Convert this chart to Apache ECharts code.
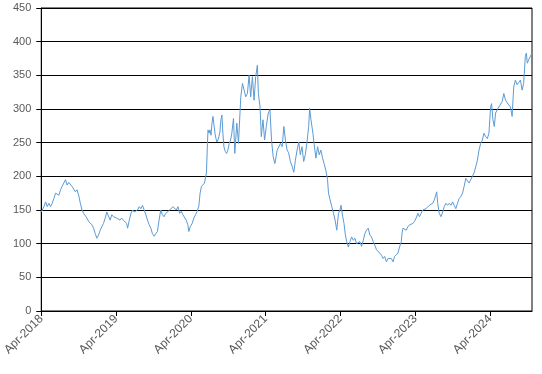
<!DOCTYPE html>
<html>
<head>
<meta charset="utf-8">
<script src="https://cdn.jsdelivr.net/npm/echarts@6/dist/echarts.min.js"></script>
<style>
html,body{margin:0;padding:0;background:#fff;}
#chart{width:542px;height:374px;}
</style>
</head>
<body>
<div id="chart"></div>
<script>
// Months elapsed since April 2018 (x) and price (y)
const months = [
0,0.43,0.70,0.96,1.23,1.50,1.75,2.02,2.29,2.55,2.82,3.09,3.34,3.61,3.89,4.14,4.41,4.68,4.94,5.21,
5.48,5.73,6.00,6.27,6.53,6.80,7.07,7.33,7.60,7.87,8.12,8.39,8.66,8.92,9.19,9.46,9.71,9.98,10.26,10.51,
10.78,11.05,11.31,11.58,11.85,12.10,12.37,12.64,12.90,13.17,13.44,13.69,13.85,14.12,14.40,14.65,14.92,15.19,15.45,15.72,
15.99,16.24,16.51,16.78,17.04,17.31,17.58,17.83,18.11,18.38,18.63,18.90,19.17,19.43,19.70,19.97,20.22,20.61,21.13,21.40,
21.66,21.93,22.20,22.45,22.72,22.99,23.25,23.52,23.68,23.89,24.20,24.48,24.75,25.00,25.27,25.48,25.70,25.91,26.18,26.34,
26.50,26.66,26.75,26.91,27.07,27.23,27.39,27.55,27.71,27.87,28.03,28.19,28.34,28.50,28.66,28.82,28.98,29.14,29.30,29.52,
29.73,29.94,30.16,30.37,30.57,30.84,31.05,31.37,31.64,32.01,32.28,32.55,32.80,33.07,33.34,33.60,33.87,34.14,34.40,34.67,
34.83,35.10,35.30,35.57,35.83,36.10,36.42,36.69,36.94,37.21,37.48,37.85,38.38,38.65,38.92,39.17,39.44,39.68,39.97,40.24,
40.51,40.77,41.04,41.31,41.56,41.83,42.10,42.36,42.63,42.90,43.06,43.27,43.58,43.79,44.06,44.33,44.59,44.86,45.13,45.38,
45.65,45.93,46.08,46.34,46.61,46.88,47.14,47.41,47.68,47.93,48.09,48.36,48.57,48.79,49.00,49.27,49.52,49.79,50.06,50.32,
50.59,50.86,51.12,51.39,51.66,51.91,52.18,52.45,52.71,52.98,53.25,53.50,53.78,54.05,54.30,54.57,54.84,55.10,55.37,55.64,
55.89,56.16,56.44,56.69,56.96,57.23,57.48,57.76,57.87,58.03,58.28,58.55,58.82,59.08,59.35,59.62,59.87,60.14,60.42,60.67,
60.94,61.21,61.47,61.74,62.01,62.26,62.53,62.80,63.06,63.44,63.60,63.85,64.13,64.40,64.65,64.92,65.19,65.45,65.72,65.99,
66.24,66.51,66.78,67.04,67.31,67.58,67.84,68.11,68.38,68.63,68.90,69.17,69.43,69.70,69.97,70.23,70.50,70.77,71.02,71.29,
71.56,71.82,72.09,72.25,72.46,72.68,72.89,73.16,73.41,73.68,73.95,74.21,74.48,74.75,75.00,75.27,75.54,75.80,76.07,76.34,
76.60,76.87,77.14,77.39,77.66,77.82,77.98,78.19,78.46,78.73
];
const prices = [
147,155,162,155,160,155,160,167,175,177,172,180,185,190,195,187,191,190,185,185,
177,180,172,160,150,145,143,138,133,135,128,123,115,108,113,120,125,130,138,147,
145,135,143,140,140,138,140,135,138,135,133,130,123,135,145,150,147,147,150,155,
152,157,150,143,135,128,123,115,111,115,118,135,150,143,140,145,147,150,155,153,
150,155,145,148,143,145,135,128,118,125,130,138,143,148,155,175,185,183,190,188,
205,249,269,264,269,261,279,289,276,264,256,251,254,259,266,284,291,264,244,237,
234,239,249,254,264,286,234,279,249,318,338,328,318,323,350,318,348,313,348,365,
323,303,259,284,254,274,294,299,254,229,219,239,249,244,274,254,239,235,222,215,
206,224,239,251,232,244,222,232,251,274,301,284,264,247,227,244,232,239,227,219,
209,195,175,165,155,145,135,120,145,150,157,140,130,113,103,95,103,110,105,108,
100,98,103,96,105,115,120,123,113,110,103,98,91,93,86,83,78,81,73,78,
76,78,73,81,81,86,95,103,115,123,125,120,125,128,128,130,133,138,145,140,
145,150,148,152,150,157,155,160,165,177,160,145,140,147,155,160,157,160,157,162,
157,152,160,167,170,175,185,197,195,190,192,200,205,214,224,239,249,254,264,259,
256,264,303,308,284,274,294,299,303,301,311,323,313,311,306,303,289,333,343,336,
338,343,328,338,378,383,368,373,375,383
];
const tickMonths = [0, 12, 24, 36, 48, 60, 72];
const tickLabels = ['Apr-2018','Apr-2019','Apr-2020','Apr-2021','Apr-2022','Apr-2023','Apr-2024'];
const yTicks = [0,50,100,150,200,250,300,350,400,450];

const seriesData = months.map((m, i) => [m, prices[i]]);
const chart = echarts.init(document.getElementById('chart'), null, {renderer: 'canvas'});
chart.setOption({
  animation: false,
  backgroundColor: '#ffffff',
  grid: {
    left: 37, right: 10, top: 8, bottom: 63,
    show: true, borderColor: '#000000', borderWidth: 1, containLabel: false
  },
  xAxis: {
    type: 'value',
    min: 0,
    max: months[months.length - 1],
    splitLine: {show: false},
    axisLine: {show: true, onZero: false, lineStyle: {color: '#000000', width: 1}},
    axisTick: {show: true, length: 5, customValues: tickMonths, lineStyle: {color: '#000000'}},
    axisLabel: {
      customValues: tickMonths,
      rotate: 45,
      margin: 6,
      color: '#595959',
      fontFamily: 'Liberation Sans, Arial, sans-serif',
      fontSize: 12,
      formatter: function (v) {
        const idx = tickMonths.indexOf(Math.round(v));
        return idx >= 0 ? tickLabels[idx] : '';
      }
    }
  },
  yAxis: {
    type: 'value',
    min: yTicks[0],
    max: yTicks[yTicks.length - 1],
    interval: 50,
    axisLine: {show: true, lineStyle: {color: '#000000', width: 1}},
    axisTick: {show: true, length: 5, lineStyle: {color: '#000000'}},
    splitLine: {show: true, lineStyle: {color: '#000000', width: 1}},
    axisLabel: {
      margin: 10,
      color: '#595959',
      fontFamily: 'Liberation Sans, Arial, sans-serif',
      fontSize: 11
    }
  },
  series: [{
    type: 'line',
    data: seriesData,
    showSymbol: false,
    symbol: 'none',
    lineStyle: {color: '#5B9BD5', width: 1},
    itemStyle: {color: '#5B9BD5'}
  }]
});
</script>
</body>
</html>
